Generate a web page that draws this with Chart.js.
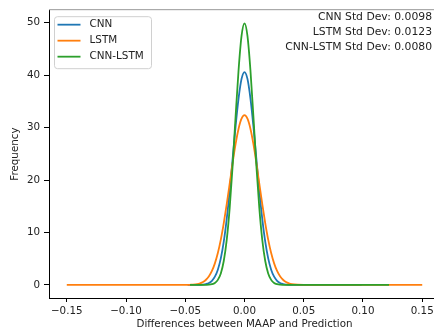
<!DOCTYPE html>
<html lang="en">
<head>
<meta charset="UTF-8">
<title>Differences between MAAP and Prediction - KDE</title>
<script src="https://cdn.jsdelivr.net/npm/chart.js@4"></script>
<style>
  html, body { margin: 0; padding: 0; background: #fff; overflow: hidden; width: 434px; height: 334px; }
  /* plot runs a few px past the right edge, like the cropped original */
  .chart-box { position: relative; width: 441px; height: 334px; }
</style>
</head>
<body>
<div class="chart-box"><canvas id="kdeChart"></canvas></div>
<script>
const xGrid = [
  -0.15, -0.05, -0.048, -0.046, -0.045, -0.04, -0.0375, -0.035, -0.0325, -0.03,
  -0.0275, -0.025, -0.0225, -0.02, -0.0175, -0.015, -0.0125, -0.01, -0.0075, -0.005,
  -0.0025, 0, 0.0025, 0.005, 0.0075, 0.01, 0.0125, 0.015, 0.0175, 0.02,
  0.0225, 0.025, 0.0275, 0.03, 0.0325, 0.035, 0.0375, 0.04, 0.045, 0.05,
  0.099, 0.122, 0.15
];
// density values (null = curve not drawn there)
const cnnDensity = [
  null, null, 0, 0, 0, 0.01, 0.03, 0.07, 0.17, 0.37,
  0.79, 1.57, 2.91, 5.06, 8.24, 12.6, 18.0, 24.1, 30.3, 35.6,
  39.3, 40.6, 39.3, 35.6, 30.3, 24.1, 18.0, 12.6, 8.24, 5.06,
  2.91, 1.57, 0.79, 0.37, 0.17, 0.07, 0.03, 0.01, 0, 0,
  0, null, null
];
const lstmDensity = [
  0, 0.01, 0.01, 0.02, 0.04, 0.16, 0.31, 0.56, 0.99, 1.65,
  2.66, 4.11, 6.08, 8.64, 11.8, 15.4, 19.3, 23.3, 26.9, 29.8,
  31.7, 32.4, 31.7, 29.8, 26.9, 23.3, 19.3, 15.4, 11.8, 8.64,
  6.08, 4.11, 2.66, 1.65, 0.99, 0.56, 0.31, 0.16, 0.04, 0.01,
  0, 0, 0
];
const cnnLstmDensity = [
  null, null, null, 0, 0, 0, 0, 0, 0.01, 0.04,
  0.14, 0.38, 0.96, 2.19, 4.56, 8.60, 14.7, 22.8, 32.2, 41.0,
  47.5, 49.9, 47.5, 41.0, 32.2, 22.8, 14.7, 8.60, 4.56, 2.19,
  0.96, 0.38, 0.14, 0.04, 0.01, 0, 0, 0, 0, 0,
  0, 0, null
];

const seriesNames = ['CNN', 'LSTM', 'CNN-LSTM'];
const seriesColors = ['#1f77b4', '#ff7f0e', '#2ca02c'];
const stdDevNotes = ['CNN Std Dev: 0.0098', 'LSTM Std Dev: 0.0123', 'CNN-LSTM Std Dev: 0.0080'];
const xTicks = [-0.15, -0.10, -0.05, 0, 0.05, 0.10, 0.15];
const yTicks = [0, 10, 20, 30, 40, 50];

const FONT = 'DejaVu Sans';
const TEXT = '#222';

function toPoints(ys) {
  return xGrid.map((x, i) => ({ x: x, y: ys[i] }));
}

// legend box, std-dev notes and top spine drawn on the canvas
const overlay = {
  id: 'overlay',
  afterDraw(chart) {
    const ctx = chart.ctx;
    const area = chart.chartArea;
    ctx.save();

    ctx.strokeStyle = '#999';
    ctx.lineWidth = 1;
    ctx.beginPath();
    ctx.moveTo(area.left, area.top - 0.5);
    ctx.lineTo(area.right, area.top - 0.5);
    ctx.stroke();

    // legend
    const bx = area.left + 5.5, by = area.top + 6.5;
    ctx.fillStyle = 'rgba(255,255,255,0.8)';
    ctx.strokeStyle = '#d0d0d0';
    ctx.beginPath();
    ctx.roundRect(bx, by, 97, 52, 3);
    ctx.fill();
    ctx.stroke();
    ctx.font = '10.4px "' + FONT + '"';
    ctx.textBaseline = 'middle';
    ctx.textAlign = 'left';
    seriesNames.forEach((name, i) => {
      const y = by + 8 + i * 16;
      ctx.strokeStyle = seriesColors[i];
      ctx.lineWidth = 1.8;
      ctx.beginPath();
      ctx.moveTo(bx + 3, y);
      ctx.lineTo(bx + 26, y);
      ctx.stroke();
      ctx.fillStyle = TEXT;
      ctx.fillText(name, bx + 35, y);
    });

    // std dev notes, right aligned
    ctx.font = '10.8px "' + FONT + '"';
    ctx.textAlign = 'right';
    stdDevNotes.forEach((note, i) => {
      ctx.fillText(note, 432, 17.5 + i * 15);
    });
    ctx.restore();
  }
};

new Chart(document.getElementById('kdeChart'), {
  type: 'line',
  data: {
    datasets: [
      { label: seriesNames[0], data: toPoints(cnnDensity), borderColor: seriesColors[0], order: 3 },
      { label: seriesNames[1], data: toPoints(lstmDensity), borderColor: seriesColors[1], order: 2 },
      { label: seriesNames[2], data: toPoints(cnnLstmDensity), borderColor: seriesColors[2], order: 1 }
    ]
  },
  options: {
    responsive: true,
    maintainAspectRatio: false,
    animation: false,
    devicePixelRatio: 1,
    layout: { padding: { top: 7, right: 1, left: 0, bottom: 0 } },
    elements: {
      point: { radius: 0 },
      line: { borderWidth: 1.8, cubicInterpolationMode: 'monotone', fill: false }
    },
    plugins: {
      legend: { display: false },
      tooltip: { enabled: false }
    },
    scales: {
      x: {
        type: 'linear',
        min: -0.165,
        max: 0.165,
        afterBuildTicks: scale => { scale.ticks = xTicks.map(v => ({ value: v })); },
        afterFit: scale => { scale.height = 36; },
        grid: { drawOnChartArea: false, drawTicks: true, tickLength: 4, tickColor: '#000' },
        border: { display: true, color: '#000', width: 1 },
        ticks: {
          padding: 3,
          maxRotation: 0,
          color: TEXT,
          font: { family: FONT, size: 10.3 },
          callback: v => (v < 0 ? '\u2212' : '') + Math.abs(v).toFixed(2)
        },
        title: {
          display: true,
          text: 'Differences between MAAP and Prediction',
          color: TEXT,
          font: { family: FONT, size: 10.3 },
          padding: { top: 0, bottom: 3 }
        }
      },
      y: {
        type: 'linear',
        min: -2.495,
        max: 52.4,
        afterBuildTicks: scale => { scale.ticks = yTicks.map(v => ({ value: v })); },
        afterFit: scale => { scale.width = 49; },
        grid: { drawOnChartArea: false, drawTicks: true, tickLength: 5, tickColor: '#000' },
        border: { display: true, color: '#000', width: 1 },
        ticks: {
          padding: 4,
          color: TEXT,
          font: { family: FONT, size: 10.3 },
          callback: v => String(v)
        },
        title: {
          display: true,
          text: 'Frequency',
          color: TEXT,
          font: { family: FONT, size: 10.3 },
          padding: { top: 9, bottom: 0 }
        }
      }
    }
  },
  plugins: [overlay]
});
</script>
</body>
</html>
